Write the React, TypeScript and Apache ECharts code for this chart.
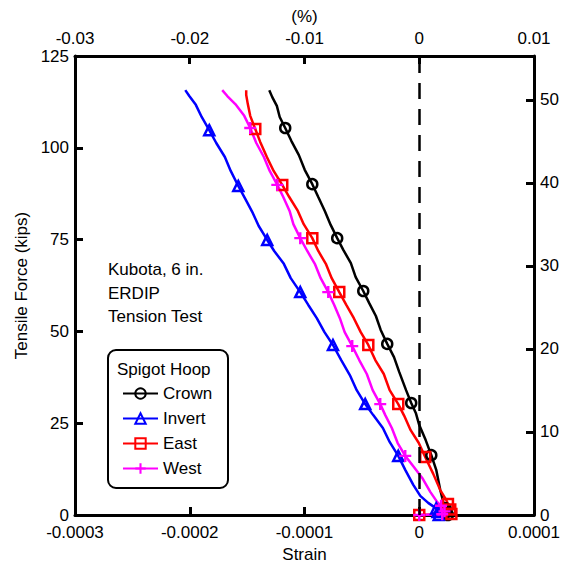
import React, { useEffect, useRef } from 'react';
import * as echarts from 'echarts';

// Strain in microstrain (x), tensile force in kips (y)
const crownData: number[][] = [
  [25, 0], [24, 0.8], [23, 1.8], [21, 3.5], [18.3, 6.8], [14.8, 12.3], [10.5, 16.3], [5.6, 20.4],
  [0, 24.5], [-3.0, 27.8], [-7.0, 30.5], [-11.5, 34.0], [-17.4, 38.9], [-22.0, 43.0], [-27.9, 46.6],
  [-33.6, 50.4], [-37.8, 54.2], [-43.6, 57.7], [-48.8, 61.0], [-55.4, 64.8], [-59.6, 68.6],
  [-66.2, 72.2], [-71.5, 75.4], [-77.2, 79.0], [-82.3, 82.8], [-88.0, 86.6], [-93.2, 90.1],
  [-99.8, 94.0], [-104.9, 98.0], [-111.5, 101.9], [-116.8, 105.4], [-121.6, 108.4], [-124.1, 111.4],
  [-128.1, 113.8], [-130.7, 115.7],
];
const crownMarks = [0, 1, 2, 6, 10, 14, 18, 22, 26, 30];

const invertData: number[][] = [
  [17, 0], [16, 0.8], [14.8, 1.8], [7.8, 3.3], [0.9, 5.2], [-5.2, 8.2], [-12.2, 12.3], [-18.3, 16.1],
  [-25.8, 19.9], [-31.7, 23.7], [-40.1, 27.2], [-47.1, 30.2], [-54.5, 34.0], [-60.5, 38.1],
  [-68.0, 42.2], [-75.2, 46.3], [-82.6, 49.8], [-89.3, 53.6], [-96.7, 57.2], [-103.7, 60.7],
  [-112.0, 64.5], [-118.0, 68.4], [-126.4, 71.9], [-132.5, 74.9], [-139.9, 78.7], [-145.0, 82.2],
  [-151.6, 86.1], [-157.7, 89.6], [-164.3, 93.7], [-169.4, 97.5], [-176.9, 101.3], [-183.0, 104.8],
  [-189.6, 108.4], [-194.7, 111.7], [-200.4, 114.1], [-203.9, 115.7],
];
const invertMarks = [0, 1, 2, 7, 11, 15, 19, 23, 27, 31];

const eastData: number[][] = [
  [0, 0], [28, 0.3], [27, 1.5], [25, 3.0], [23.5, 4.1], [18.3, 6.8], [12.2, 11.2], [5.2, 15.8],
  [-0.4, 19.6], [-7.5, 23.1], [-13.1, 27.0], [-18.3, 30.2], [-25.8, 34.0], [-30.9, 38.4],
  [-38.3, 42.2], [-44.4, 46.3], [-51.0, 49.8], [-57.0, 53.6], [-63.6, 57.2], [-69.7, 60.7],
  [-76.3, 64.5], [-81.4, 68.4], [-88.0, 71.9], [-93.2, 75.4], [-100.7, 79.2], [-105.8, 82.8],
  [-113.3, 86.6], [-119.4, 89.9], [-126.9, 93.7], [-132.8, 97.5], [-138.6, 101.6], [-142.9, 105.1],
  [-147.3, 108.7], [-149.4, 111.9], [-150.8, 114.4], [-150.8, 115.7],
];
const eastMarks = [0, 1, 2, 3, 7, 11, 15, 19, 23, 27, 31];

const westData: number[][] = [
  [0, 0], [20, 0.2], [22, 1.0], [19, 2.5], [15.7, 3.5], [9.6, 6.3], [2.6, 10.1], [-5.2, 13.3],
  [-12.2, 16.1], [-18.8, 19.6], [-23.9, 23.7], [-29.6, 27.2], [-34.0, 30.2], [-40.6, 34.0],
  [-45.7, 38.4], [-52.3, 42.2], [-58.4, 46.0], [-65.0, 49.8], [-69.2, 53.6], [-74.1, 57.2],
  [-79.3, 60.7], [-85.9, 64.5], [-91.0, 68.4], [-97.6, 71.9], [-103.7, 75.4], [-109.7, 79.2],
  [-113.0, 82.8], [-118.5, 86.6], [-123.7, 89.9], [-130.3, 93.7], [-135.4, 97.5], [-142.0, 101.3],
  [-147.3, 105.4], [-152.5, 108.7], [-160.3, 111.9], [-167.3, 114.1], [-171.7, 115.7],
];
const westMarks = [0, 1, 2, 3, 8, 12, 16, 20, 24, 28, 32];

const strainTicks = [-300, -200, -100, 0, 100]; // microstrain
const percentTicks = [-0.03, -0.02, -0.01, 0, 0.01];
const forceTicks = [0, 25, 50, 75, 100, 125];
const rightTicks = [0, 10, 20, 30, 40, 50];
const rightMax = 55.3;

const noteLines = ['Kubota, 6 in.', 'ERDIP', 'Tension Test'];
const legendTitle = 'Spigot Hoop';

const PLUS = 'path://M4,0H6V4H10V6H6V10H4V6H0V4H4Z';
const FONT = "'Liberation Sans', Arial, sans-serif";
const FS = 17;

function build(data: number[][], marks: number[]) {
  return data.map((d, i) =>
    marks.includes(i) ? { value: d } : { value: d, symbol: 'none' }
  );
}

export default function App() {
  const ref = useRef<HTMLDivElement>(null);
  useEffect(() => {
    if (!ref.current) return;
    const chart = echarts.init(ref.current, undefined, { renderer: 'svg' });
    const axisLine = { show: true, onZero: false, lineStyle: { color: '#000', width: 3 } };
    const axisTick = { show: true, inside: true, length: 8, lineStyle: { color: '#000', width: 3 } };
    const label = { color: '#000', fontSize: FS, fontFamily: FONT };
    const nameStyle = { color: '#000', fontSize: FS, fontFamily: FONT };
    const lineSeries = (name: string, data: any[], color: string, symbol: string, size: number, filled: boolean, extra: any = {}) => ({
      name,
      type: 'line',
      data,
      xAxisIndex: 0,
      yAxisIndex: 0,
      symbol,
      symbolSize: size,
      showSymbol: true,
      clip: false,
      lineStyle: { color, width: 2.5 },
      itemStyle: filled
        ? { color, borderWidth: 0 }
        : { color: 'rgba(0,0,0,0)', borderColor: color, borderWidth: 2.5 },
      emphasis: { disabled: true },
      ...extra,
    });
    const option: any = {
      animation: false,
      textStyle: { fontFamily: FONT },
      grid: { left: 75, right: 30, top: 56, bottom: 54, containLabel: false, outerBoundsMode: 'none' },
      xAxis: [
        {
          type: 'value',
          position: 'bottom',
          min: strainTicks[0],
          max: strainTicks[strainTicks.length - 1],
          interval: 100,
          name: 'Strain',
          nameLocation: 'middle',
          nameGap: 28,
          nameTextStyle: nameStyle,
          axisLine,
          axisTick,
          splitLine: { show: false },
          axisLabel: {
            ...label,
            margin: 9,
            formatter: (v: number) => (Math.abs(v) < 1e-9 ? '0' : (v / 1e6).toFixed(4)),
          },
        },
        {
          type: 'value',
          position: 'top',
          min: percentTicks[0],
          max: percentTicks[percentTicks.length - 1],
          interval: 0.01,
          name: '(%)',
          nameLocation: 'middle',
          nameGap: 30,
          nameTextStyle: nameStyle,
          axisLine,
          axisTick,
          splitLine: { show: false },
          axisLabel: {
            ...label,
            margin: 9,
            formatter: (v: number) => (Math.abs(v) < 1e-9 ? '0' : v.toFixed(2)),
          },
        },
      ],
      yAxis: [
        {
          type: 'value',
          position: 'left',
          min: forceTicks[0],
          max: forceTicks[forceTicks.length - 1],
          interval: 25,
          name: 'Tensile Force (kips)',
          nameLocation: 'middle',
          nameGap: 42,
          nameTextStyle: nameStyle,
          axisLine,
          axisTick,
          splitLine: { show: false },
          axisLabel: { ...label, margin: 6 },
        },
        {
          type: 'value',
          position: 'right',
          min: rightTicks[0],
          max: rightMax,
          interval: 10,
          axisLine,
          axisTick: { ...axisTick, customValues: rightTicks },
          splitLine: { show: false },
          axisLabel: {
            ...label,
            margin: 6,
            customValues: rightTicks,
            formatter: (v: number) => (rightTicks.includes(Math.round(v * 1000) / 1000) ? String(v) : ''),
          },
        },
      ],
      legend: {
        show: true,
        orient: 'vertical',
        left: 117,
        top: 380,
        itemWidth: 35,
        itemHeight: 13,
        itemGap: 8,
        selectedMode: false,
        textStyle: { color: '#000', fontSize: FS, fontFamily: FONT, lineHeight: 17 },
        data: ['Crown', 'Invert', 'East', 'West'],
      },
      graphic: [
        {
          type: 'rect',
          shape: { x: 108, y: 350, width: 120, height: 138, r: 8 },
          style: { fill: '#fff', stroke: '#000', lineWidth: 2 },
          z: 0,
          silent: true,
        },
        {
          type: 'text',
          x: 117,
          y: 369,
          style: { text: legendTitle, fill: '#000', fontSize: FS, fontFamily: FONT, verticalAlign: 'middle' },
          z: 1,
          silent: true,
        },
        {
          type: 'text',
          x: 108,
          y: 258,
          style: {
            text: noteLines.join('\n'),
            fill: '#000',
            fontSize: FS,
            lineHeight: 23.5,
            fontFamily: FONT,
            verticalAlign: 'top',
          },
          silent: true,
        },
      ],
      series: [
        lineSeries('Crown', build(crownData, crownMarks), '#000000', 'circle', 10, false, {
          markLine: {
            silent: true,
            symbol: 'none',
            label: { show: false },
            lineStyle: { color: '#000', type: [16, 10], width: 2.5 },
            emphasis: { disabled: true },
            data: [{ xAxis: 0 }],
          },
        }),
        lineSeries('Invert', build(invertData, invertMarks), '#0000ff', 'triangle', 10, false),
        lineSeries('East', build(eastData, eastMarks), '#ff0000', 'rect', 10, false),
        lineSeries('West', build(westData, westMarks), '#ff00ff', PLUS, 12, true),
      ],
    };
    chart.setOption(option);
    return () => chart.dispose();
  }, []);
  return (
    <div
      ref={ref}
      style={{ position: 'absolute', left: 0, top: 0, width: 564, height: 569, background: '#fff' }}
    />
  );
}
